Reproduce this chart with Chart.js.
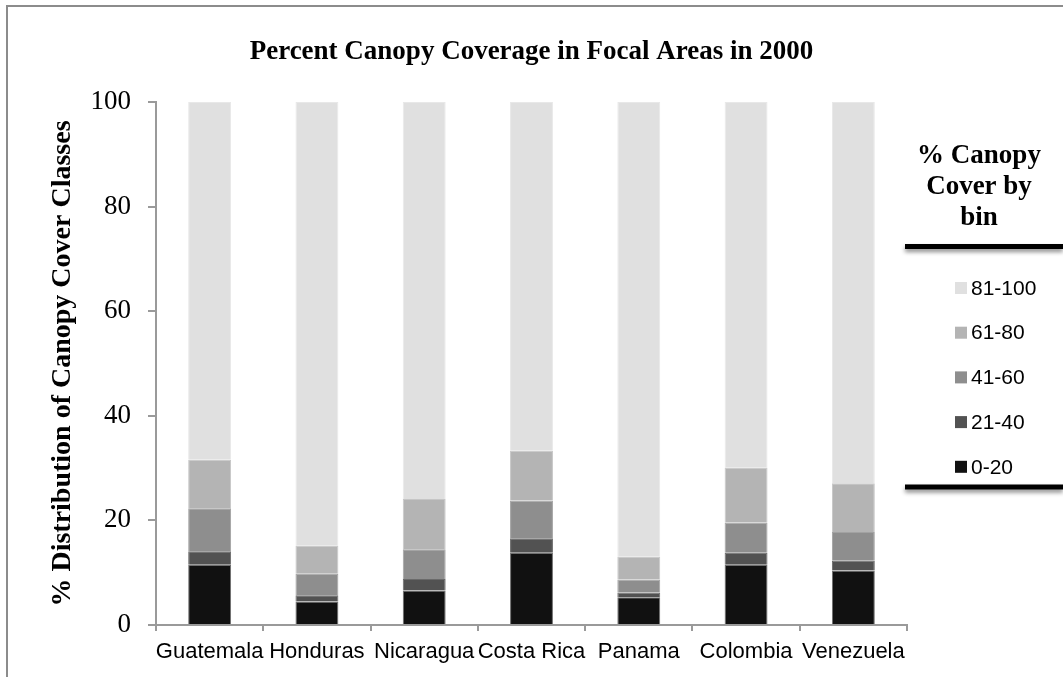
<!DOCTYPE html>
<html>
<head>
<meta charset="utf-8">
<title>Percent Canopy Coverage in Focal Areas in 2000</title>
<script src="https://cdn.jsdelivr.net/npm/chart.js@4.4.1/dist/chart.umd.min.js"></script>
<style>
    html, body { margin: 0; padding: 0; background: #fff; overflow: hidden; }
    #frame {
        position: absolute; left: 6px; top: 5px; width: 1100px; height: 700px;
        border-left: 2px solid #8c8c8c; border-top: 2px solid #8c8c8c;
    }
    #wrap { position: absolute; left: 0; top: 0; width: 1063px; height: 677px; }
</style>
</head>
<body>
<div id="frame"></div>
<div id="wrap"><canvas id="canopyChart"></canvas></div>
<script>
const countries = ["Guatemala", "Honduras", "Nicaragua", "Costa Rica", "Panama", "Colombia", "Venezuela"];

// share of each canopy cover bin (%), one value per country
const bin0to20 = [11.5, 4.5, 6.6, 13.8, 5.3, 11.5, 10.4];
const bin21to40 = [2.6, 1.2, 2.2, 2.8, 0.9, 2.3, 1.9];
const bin41to60 = [8.2, 4.1, 5.7, 7.2, 2.5, 5.8, 5.5];
const bin61to80 = [9.3, 5.4, 9.6, 9.5, 4.4, 10.5, 9.3];
const bin81to100 = [68.4, 84.8, 75.9, 66.7, 86.9, 69.9, 72.9];

const binLabels = ["0-20", "21-40", "41-60", "61-80", "81-100"];
const binFills = ["#111111", "#525252", "#8e8e8e", "#b4b4b4", "#e0e0e0"];
const binEdges = ["#6e6e6e", "#6a6a6a", "#a2a2a2", "#c6c6c6", "#e8e8e8"];

const seriesValues = [bin0to20, bin21to40, bin41to60, bin61to80, bin81to100];

const datasets = binLabels.map((label, i) => ({
    label: label,
    data: seriesValues[i],
    backgroundColor: binFills[i],
    borderColor: binEdges[i],
    borderWidth: 1,
    barPercentage: 0.4,
    categoryPercentage: 1.0
}));

// legend box on the right: heading, two heavy rules, items listed top bin first
const binLegend = {
    id: "binLegend",
    afterDraw(chart) {
        const ctx = chart.ctx;
        ctx.save();

        ctx.fillStyle = "#000";
        ctx.textAlign = "center";
        ctx.textBaseline = "middle";
        ctx.font = "bold 27px 'Liberation Serif'";
        ["% Canopy", "Cover by", "bin"].forEach((line, i) => {
            ctx.fillText(line, 979, 156 + i * 31);
        });

        ctx.strokeStyle = "#000";
        ctx.lineWidth = 5;
        ctx.shadowColor = "rgba(0,0,0,0.45)";
        ctx.shadowBlur = 4;
        ctx.shadowOffsetY = 3;
        [246.5, 487].forEach(y => {
            ctx.beginPath();
            ctx.moveTo(905, y);
            ctx.lineTo(1063, y);
            ctx.stroke();
        });
        ctx.shadowColor = "transparent";

        ctx.textAlign = "left";
        ctx.font = "21px 'Liberation Sans'";
        const items = chart.data.datasets.slice().reverse();
        items.forEach((ds, i) => {
            const y = 288 + i * 44.7;
            ctx.fillStyle = ds.backgroundColor;
            ctx.fillRect(955, y - 6, 12, 12);
            ctx.fillStyle = "#000";
            ctx.fillText(ds.label, 971, y + 1);
        });

        ctx.restore();
    }
};

new Chart(document.getElementById("canopyChart"), {
    type: "bar",
    data: { labels: countries, datasets: datasets },
    options: {
        responsive: true,
        maintainAspectRatio: false,
        animation: false,
        layout: { padding: 0 },
        plugins: {
            legend: { display: false },
            tooltip: { enabled: false },
            title: {
                display: true,
                text: "Percent Canopy Coverage in Focal Areas in 2000",
                color: "#000",
                font: { family: "'Liberation Serif'", size: 27, weight: "bold" },
                padding: { top: 36, bottom: 33.6 }
            }
        },
        scales: {
            x: {
                stacked: true,
                grid: { display: true, drawOnChartArea: false, tickLength: 6, color: "#9a9a9a", lineWidth: 2, offset: true },
                border: { color: "#9a9a9a", width: 2 },
                ticks: {
                    color: "#000",
                    font: { family: "'Liberation Sans'", size: 22 },
                    padding: 8,
                    autoSkip: false,
                    maxRotation: 0
                },
                afterFit(scale) { scale.height = 52; }
            },
            y: {
                stacked: true,
                min: 0,
                max: 100,
                grid: { display: true, drawOnChartArea: false, tickLength: 8, color: "#9a9a9a", lineWidth: 2 },
                border: { color: "#9a9a9a", width: 2 },
                ticks: {
                    stepSize: 20,
                    color: "#000",
                    font: { family: "'Liberation Serif'", size: 27 },
                    padding: 17
                },
                title: {
                    display: true,
                    text: "% Distribution of Canopy Cover Classes",
                    color: "#000",
                    font: { family: "'Liberation Serif'", size: 28, weight: "bold" },
                    padding: { top: 46, bottom: 0 }
                },
                afterFit(scale) { scale.width = 156; }
            },
            // empty right-hand axis that reserves room for the legend box
            legendSpace: {
                type: "linear",
                position: "right",
                grid: { display: false },
                border: { display: false },
                ticks: { display: false },
                afterFit(scale) { scale.width = 156; }
            }
        }
    },
    plugins: [binLegend]
});
</script>
</body>
</html>
